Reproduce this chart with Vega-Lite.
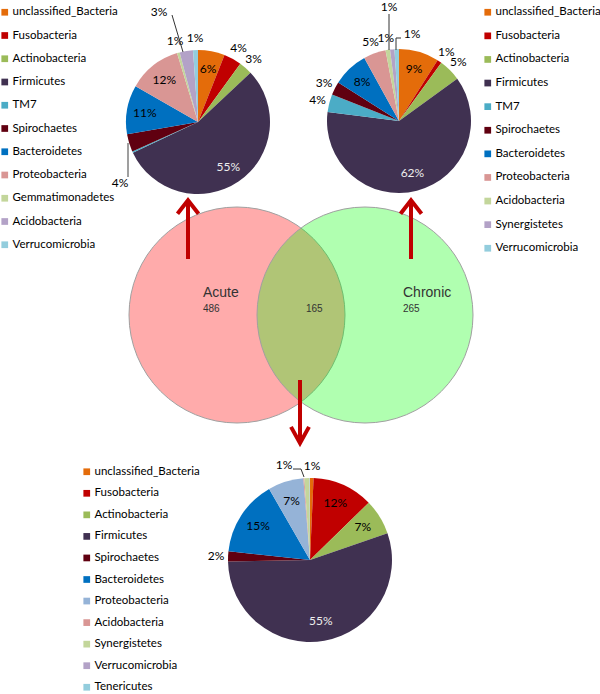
{
  "$schema": "https://vega.github.io/schema/vega-lite/v6.json",
  "width": 600,
  "height": 694,
  "autosize": {"type": "none"},
  "padding": 0,
  "background": "white",
  "config": {
    "view": {"stroke": null},
    "legend": {"labelFont": "Lato", "labelFontSize": 11.5, "labelColor": "#000", "symbolType": "square", "symbolSize": 45, "symbolStrokeWidth": 0, "rowPadding": 11, "labelOffset": 2, "padding": 0, "labelLimit": 300, "direction": "vertical"}
  },
  "datasets": {
    "acute": [
      {"cat": "unclassified_Bacteria", "pct": 0.06, "i": 1},
      {"cat": "Fusobacteria", "pct": 0.04, "i": 2},
      {"cat": "Actinobacteria", "pct": 0.03, "i": 3},
      {"cat": "Firmicutes", "pct": 0.55, "i": 4},
      {"cat": "TM7", "pct": 0.003, "i": 5},
      {"cat": "Spirochaetes", "pct": 0.04, "i": 6},
      {"cat": "Bacteroidetes", "pct": 0.11, "i": 7},
      {"cat": "Proteobacteria", "pct": 0.12, "i": 8},
      {"cat": "Gemmatimonadetes", "pct": 0.006, "i": 9},
      {"cat": "Acidobacteria", "pct": 0.03, "i": 10},
      {"cat": "Verrucomicrobia", "pct": 0.011, "i": 11}
    ],
    "chronic": [
      {"cat": "unclassified_Bacteria", "pct": 0.09, "i": 1},
      {"cat": "Fusobacteria", "pct": 0.01, "i": 2},
      {"cat": "Actinobacteria", "pct": 0.05, "i": 3},
      {"cat": "Firmicutes", "pct": 0.62, "i": 4},
      {"cat": "TM7", "pct": 0.04, "i": 5},
      {"cat": "Spirochaetes", "pct": 0.03, "i": 6},
      {"cat": "Bacteroidetes", "pct": 0.08, "i": 7},
      {"cat": "Proteobacteria", "pct": 0.05, "i": 8},
      {"cat": "Acidobacteria", "pct": 0.01, "i": 9},
      {"cat": "Synergistetes", "pct": 0.01, "i": 10},
      {"cat": "Verrucomicrobia", "pct": 0.01, "i": 11}
    ],
    "shared": [
      {"cat": "unclassified_Bacteria", "pct": 0.007, "i": 1},
      {"cat": "Fusobacteria", "pct": 0.12, "i": 2},
      {"cat": "Actinobacteria", "pct": 0.07, "i": 3},
      {"cat": "Firmicutes", "pct": 0.55, "i": 4},
      {"cat": "Spirochaetes", "pct": 0.02, "i": 5},
      {"cat": "Bacteroidetes", "pct": 0.15, "i": 6},
      {"cat": "Proteobacteria", "pct": 0.07, "i": 7},
      {"cat": "Acidobacteria", "pct": 0.002, "i": 8},
      {"cat": "Synergistetes", "pct": 0.01, "i": 9},
      {"cat": "Verrucomicrobia", "pct": 0.0005, "i": 10},
      {"cat": "Tenericutes", "pct": 0.0005, "i": 11}
    ],
    "venn": [
      {"set": "Acute", "otus": 486},
      {"set": "Both", "otus": 165},
      {"set": "Chronic", "otus": 265}
    ]
  },
  "resolve": {"scale": {"color": "independent"}, "legend": {"color": "independent"}},
  "layer": [
    {
      "data": {"name": "venn"},
      "transform": [{"filter": "datum.set === 'Acute'"}],
      "mark": {"type": "point", "shape": "circle", "filled": true, "size": 46656, "fill": "#FF0000", "fillOpacity": 0.33, "stroke": "#a0a0a0", "strokeWidth": 1, "strokeOpacity": 1},
      "encoding": {
        "x": {"datum": 237, "type": "quantitative", "scale": {"domain": [0, 600], "nice": false, "zero": false}, "axis": null},
        "y": {"datum": 315, "type": "quantitative", "scale": {"domain": [0, 694], "nice": false, "zero": false, "reverse": true}, "axis": null}
      }
    },
    {
      "data": {"name": "venn"},
      "transform": [{"filter": "datum.set === 'Chronic'"}],
      "mark": {"type": "point", "shape": "circle", "filled": true, "size": 46656, "fill": "#00FF00", "fillOpacity": 0.31, "stroke": "#a0a0a0", "strokeWidth": 1, "strokeOpacity": 1},
      "encoding": {
        "x": {"datum": 365, "type": "quantitative"},
        "y": {"datum": 315, "type": "quantitative"}
      }
    },
    {
      "data": {"name": "venn"},
      "transform": [{"filter": "datum.set === 'Acute'"}],
      "mark": {"type": "text", "align": "left", "baseline": "middle", "font": "Liberation Sans", "fontSize": 14, "color": "#333333"},
      "encoding": {"x": {"datum": 203, "type": "quantitative"}, "y": {"datum": 293, "type": "quantitative"}, "text": {"field": "set"}}
    },
    {
      "data": {"name": "venn"},
      "transform": [{"filter": "datum.set === 'Chronic'"}],
      "mark": {"type": "text", "align": "left", "baseline": "middle", "font": "Liberation Sans", "fontSize": 14, "color": "#333333"},
      "encoding": {"x": {"datum": 403, "type": "quantitative"}, "y": {"datum": 293, "type": "quantitative"}, "text": {"field": "set"}}
    },
    {
      "data": {"name": "venn"},
      "transform": [{"filter": "datum.set === 'Acute'"}],
      "mark": {"type": "text", "align": "left", "baseline": "middle", "font": "Liberation Sans", "fontSize": 10, "color": "#333333"},
      "encoding": {"x": {"datum": 203, "type": "quantitative"}, "y": {"datum": 309, "type": "quantitative"}, "text": {"field": "otus"}}
    },
    {
      "data": {"name": "venn"},
      "transform": [{"filter": "datum.set === 'Both'"}],
      "mark": {"type": "text", "align": "left", "baseline": "middle", "font": "Liberation Sans", "fontSize": 10, "color": "#333333"},
      "encoding": {"x": {"datum": 306, "type": "quantitative"}, "y": {"datum": 309, "type": "quantitative"}, "text": {"field": "otus"}}
    },
    {
      "data": {"name": "venn"},
      "transform": [{"filter": "datum.set === 'Chronic'"}],
      "mark": {"type": "text", "align": "left", "baseline": "middle", "font": "Liberation Sans", "fontSize": 10, "color": "#333333"},
      "encoding": {"x": {"datum": 403, "type": "quantitative"}, "y": {"datum": 309, "type": "quantitative"}, "text": {"field": "otus"}}
    },
    {
      "data": {"values": [{"arrow": "Acute"}]},
      "mark": {"type": "rule", "color": "#C00000", "strokeWidth": 4},
      "encoding": {"x": {"datum": 188, "type": "quantitative"}, "y": {"datum": 259, "type": "quantitative"}, "y2": {"datum": 202}}
    },
    {
      "data": {"values": [{"arrow": "Chronic"}]},
      "mark": {"type": "rule", "color": "#C00000", "strokeWidth": 4},
      "encoding": {"x": {"datum": 411, "type": "quantitative"}, "y": {"datum": 259, "type": "quantitative"}, "y2": {"datum": 202}}
    },
    {
      "data": {"values": [{"arrow": "Both"}]},
      "mark": {"type": "rule", "color": "#C00000", "strokeWidth": 4},
      "encoding": {"x": {"datum": 300, "type": "quantitative"}, "y": {"datum": 380, "type": "quantitative"}, "y2": {"datum": 441}}
    },
    {
      "data": {"values": [{"arrow": "Acute"}]},
      "mark": {"type": "point", "shape": "M-1,0.65L0,-0.65L1,0.65", "filled": false, "stroke": "#C00000", "strokeWidth": 4, "size": 441, "opacity": 1},
      "encoding": {"x": {"datum": 188, "type": "quantitative"}, "y": {"datum": 207, "type": "quantitative"}}
    },
    {
      "data": {"values": [{"arrow": "Chronic"}]},
      "mark": {"type": "point", "shape": "M-1,0.65L0,-0.65L1,0.65", "filled": false, "stroke": "#C00000", "strokeWidth": 4, "size": 441, "opacity": 1},
      "encoding": {"x": {"datum": 411, "type": "quantitative"}, "y": {"datum": 207, "type": "quantitative"}}
    },
    {
      "data": {"values": [{"arrow": "Both"}]},
      "mark": {"type": "point", "shape": "M-1,-0.9L0,0.9L1,-0.9", "filled": false, "stroke": "#C00000", "strokeWidth": 4, "size": 324, "opacity": 1},
      "encoding": {"x": {"datum": 300, "type": "quantitative"}, "y": {"datum": 435, "type": "quantitative"}}
    },
    {
      "data": {"name": "acute"},
      "mark": {"type": "arc", "outerRadius": 72},
      "encoding": {
        "x": {"datum": 198, "type": "quantitative"},
        "y": {"datum": 122, "type": "quantitative"},
        "theta": {"field": "pct", "type": "quantitative", "stack": true, "scale": {"domain": [0, 1]}},
        "order": {"field": "i"},
        "color": {"field": "cat", "type": "nominal",
          "scale": {"domain": ["unclassified_Bacteria", "Fusobacteria", "Actinobacteria", "Firmicutes", "TM7", "Spirochaetes", "Bacteroidetes", "Proteobacteria", "Gemmatimonadetes", "Acidobacteria", "Verrucomicrobia"],
                    "range": ["#E46C0A", "#C00000", "#9BBB59", "#403151", "#4BACC6", "#600010", "#0070C0", "#D99694", "#C3D69B", "#B3A2C7", "#93CDDD"]},
          "legend": {"orient": "none", "legendX": -1, "legendY": 6.5, "title": null, "symbolType": "square", "rowPadding": 10.25}}
      }
    },
    {
      "data": {"name": "acute"},
      "mark": {"type": "text", "radius": 54, "font": "Lato", "fontSize": 12},
      "encoding": {
        "x": {"datum": 198, "type": "quantitative"},
        "y": {"datum": 122, "type": "quantitative"},
        "theta": {"field": "pct", "type": "quantitative", "stack": true},
        "order": {"field": "i"},
        "detail": {"field": "cat"},
        "text": {"field": "pct", "type": "quantitative", "format": ".0%", "condition": {"test": "datum.pct < 0.06", "value": ""}},
        "color": {"condition": {"test": "datum.cat === 'Firmicutes'", "value": "#eeeeee"}, "value": "#000000"}
      }
    },
    {
      "data": {"name": "acute"},
      "mark": {"type": "text", "radius": 84, "font": "Lato", "fontSize": 12, "color": "#000000"},
      "encoding": {
        "x": {"datum": 198, "type": "quantitative"},
        "y": {"datum": 122, "type": "quantitative"},
        "theta": {"field": "pct", "type": "quantitative", "stack": true},
        "order": {"field": "i"},
        "detail": {"field": "cat"},
        "text": {"field": "pct", "type": "quantitative", "format": ".0%", "condition": {"test": "datum.pct >= 0.06 || datum.pct < 0.005 || datum.cat === 'Acidobacteria' || datum.cat === 'Spirochaetes'", "value": ""}}
      }
    },
    {
      "data": {"name": "chronic"},
      "mark": {"type": "arc", "outerRadius": 72},
      "encoding": {
        "x": {"datum": 399, "type": "quantitative"},
        "y": {"datum": 121, "type": "quantitative"},
        "theta": {"field": "pct", "type": "quantitative", "stack": true},
        "order": {"field": "i"},
        "color": {"field": "cat", "type": "nominal",
          "scale": {"domain": ["unclassified_Bacteria", "Fusobacteria", "Actinobacteria", "Firmicutes", "TM7", "Spirochaetes", "Bacteroidetes", "Proteobacteria", "Acidobacteria", "Synergistetes", "Verrucomicrobia"],
                    "range": ["#E46C0A", "#C00000", "#9BBB59", "#403151", "#4BACC6", "#600010", "#0070C0", "#D99694", "#C3D69B", "#B3A2C7", "#93CDDD"]},
          "legend": {"orient": "none", "legendX": 482, "legendY": 6.5, "title": null, "symbolType": "square", "rowPadding": 10.6}}
      }
    },
    {
      "data": {"name": "chronic"},
      "mark": {"type": "text", "radius": 54, "font": "Lato", "fontSize": 12},
      "encoding": {
        "x": {"datum": 399, "type": "quantitative"},
        "y": {"datum": 121, "type": "quantitative"},
        "theta": {"field": "pct", "type": "quantitative", "stack": true},
        "order": {"field": "i"},
        "detail": {"field": "cat"},
        "text": {"field": "pct", "type": "quantitative", "format": ".0%", "condition": {"test": "datum.pct < 0.06", "value": ""}},
        "color": {"condition": {"test": "datum.cat === 'Firmicutes'", "value": "#eeeeee"}, "value": "#000000"}
      }
    },
    {
      "data": {"name": "chronic"},
      "mark": {"type": "text", "radius": 84, "font": "Lato", "fontSize": 12, "color": "#000000"},
      "encoding": {
        "x": {"datum": 399, "type": "quantitative"},
        "y": {"datum": 121, "type": "quantitative"},
        "theta": {"field": "pct", "type": "quantitative", "stack": true},
        "order": {"field": "i"},
        "detail": {"field": "cat"},
        "text": {"field": "pct", "type": "quantitative", "format": ".0%", "condition": {"test": "datum.pct >= 0.06 || datum.pct < 0.005 || datum.cat === 'Synergistetes' || datum.cat === 'Verrucomicrobia'", "value": ""}}
      }
    },
    {
      "data": {"name": "shared"},
      "mark": {"type": "arc", "outerRadius": 82},
      "encoding": {
        "x": {"datum": 310, "type": "quantitative"},
        "y": {"datum": 560, "type": "quantitative"},
        "theta": {"field": "pct", "type": "quantitative", "stack": true},
        "order": {"field": "i"},
        "color": {"field": "cat", "type": "nominal",
          "scale": {"domain": ["unclassified_Bacteria", "Fusobacteria", "Actinobacteria", "Firmicutes", "Spirochaetes", "Bacteroidetes", "Proteobacteria", "Acidobacteria", "Synergistetes", "Verrucomicrobia", "Tenericutes"],
                    "range": ["#E46C0A", "#C00000", "#9BBB59", "#403151", "#600010", "#0070C0", "#95B3D7", "#D99694", "#C3D69B", "#B3A2C7", "#93CDDD"]},
          "legend": {"orient": "none", "legendX": 81, "legendY": 466, "title": null, "symbolType": "square", "rowPadding": 8.55}}
      }
    },
    {
      "data": {"name": "shared"},
      "mark": {"type": "text", "radius": 62, "font": "Lato", "fontSize": 12},
      "encoding": {
        "x": {"datum": 310, "type": "quantitative"},
        "y": {"datum": 560, "type": "quantitative"},
        "theta": {"field": "pct", "type": "quantitative", "stack": true},
        "order": {"field": "i"},
        "detail": {"field": "cat"},
        "text": {"field": "pct", "type": "quantitative", "format": ".0%", "condition": {"test": "datum.pct < 0.06", "value": ""}},
        "color": {"condition": {"test": "datum.cat === 'Firmicutes'", "value": "#eeeeee"}, "value": "#000000"}
      }
    },
    {
      "data": {"name": "shared"},
      "mark": {"type": "text", "radius": 94, "font": "Lato", "fontSize": 12, "color": "#000000"},
      "encoding": {
        "x": {"datum": 310, "type": "quantitative"},
        "y": {"datum": 560, "type": "quantitative"},
        "theta": {"field": "pct", "type": "quantitative", "stack": true},
        "order": {"field": "i"},
        "detail": {"field": "cat"},
        "text": {"field": "pct", "type": "quantitative", "format": ".0%", "condition": {"test": "datum.pct >= 0.06 || datum.pct < 0.005 || datum.cat === 'Synergistetes'", "value": ""}}
      }
    },
    {
      "data": {"name": "acute"},
      "transform": [{"filter": "datum.cat === 'Acidobacteria'"}],
      "mark": {"type": "text", "font": "Lato", "fontSize": 12, "color": "#000000", "align": "center", "baseline": "middle"},
      "encoding": {"x": {"datum": 159, "type": "quantitative"}, "y": {"datum": 12, "type": "quantitative"}, "text": {"field": "pct", "type": "quantitative", "format": ".0%"}}
    },
    {
      "data": {"name": "acute"},
      "transform": [{"filter": "datum.cat === 'Spirochaetes'"}],
      "mark": {"type": "text", "font": "Lato", "fontSize": 12, "color": "#000000", "align": "center", "baseline": "middle"},
      "encoding": {"x": {"datum": 120, "type": "quantitative"}, "y": {"datum": 183, "type": "quantitative"}, "text": {"field": "pct", "type": "quantitative", "format": ".0%"}}
    },
    {
      "data": {"name": "chronic"},
      "transform": [{"filter": "datum.cat === 'Synergistetes'"}],
      "mark": {"type": "text", "font": "Lato", "fontSize": 12, "color": "#000000", "align": "center", "baseline": "middle"},
      "encoding": {"x": {"datum": 389, "type": "quantitative"}, "y": {"datum": 7, "type": "quantitative"}, "text": {"field": "pct", "type": "quantitative", "format": ".0%"}}
    },
    {
      "data": {"name": "chronic"},
      "transform": [{"filter": "datum.cat === 'Verrucomicrobia'"}],
      "mark": {"type": "text", "font": "Lato", "fontSize": 12, "color": "#000000", "align": "center", "baseline": "middle"},
      "encoding": {"x": {"datum": 412, "type": "quantitative"}, "y": {"datum": 34, "type": "quantitative"}, "text": {"field": "pct", "type": "quantitative", "format": ".0%"}}
    },
    {
      "data": {"name": "shared"},
      "transform": [{"filter": "datum.cat === 'Synergistetes'"}],
      "mark": {"type": "text", "font": "Lato", "fontSize": 12, "color": "#000000", "align": "center", "baseline": "middle"},
      "encoding": {"x": {"datum": 284, "type": "quantitative"}, "y": {"datum": 465, "type": "quantitative"}, "text": {"field": "pct", "type": "quantitative", "format": ".0%"}}
    },
    {
      "data": {"values": [{"leader": "Acute Acidobacteria"}]},
      "mark": {"type": "rule", "color": "#333333", "strokeWidth": 1},
      "encoding": {"x": {"datum": 172, "type": "quantitative"}, "y": {"datum": 15, "type": "quantitative"}, "x2": {"datum": 183}, "y2": {"datum": 52}}
    },
    {
      "data": {"values": [{"leader": "Acute Spirochaetes"}]},
      "mark": {"type": "rule", "color": "#7f7f7f", "strokeWidth": 1.5},
      "encoding": {"x": {"datum": 128, "type": "quantitative"}, "y": {"datum": 143, "type": "quantitative"}, "y2": {"datum": 177}}
    },
    {
      "data": {"values": [{"leader": "Chronic Synergistetes"}]},
      "mark": {"type": "rule", "color": "#333333", "strokeWidth": 1},
      "encoding": {"x": {"datum": 389, "type": "quantitative"}, "y": {"datum": 14, "type": "quantitative"}, "y2": {"datum": 50}}
    },
    {
      "data": {"values": [{"leader": "Chronic Verrucomicrobia"}]},
      "mark": {"type": "rule", "color": "#333333", "strokeWidth": 1},
      "encoding": {"x": {"datum": 396, "type": "quantitative"}, "y": {"datum": 38, "type": "quantitative"}, "y2": {"datum": 50}}
    },
    {
      "data": {"values": [{"leader": "Chronic Verrucomicrobia"}]},
      "mark": {"type": "rule", "color": "#333333", "strokeWidth": 1},
      "encoding": {"x": {"datum": 396, "type": "quantitative"}, "x2": {"datum": 401}, "y": {"datum": 38, "type": "quantitative"}}
    },
    {
      "data": {"values": [{"leader": "Shared Synergistetes"}]},
      "mark": {"type": "rule", "color": "#333333", "strokeWidth": 1},
      "encoding": {"x": {"datum": 293, "type": "quantitative"}, "y": {"datum": 469, "type": "quantitative"}, "x2": {"datum": 301}, "y2": {"datum": 469}}
    },
    {
      "data": {"values": [{"leader": "Shared Synergistetes"}]},
      "mark": {"type": "rule", "color": "#333333", "strokeWidth": 1},
      "encoding": {"x": {"datum": 301, "type": "quantitative"}, "y": {"datum": 469, "type": "quantitative"}, "x2": {"datum": 304}, "y2": {"datum": 477}}
    }
  ]
}
